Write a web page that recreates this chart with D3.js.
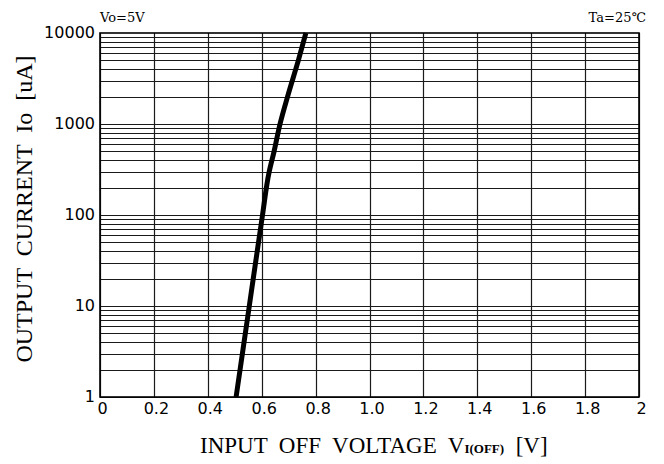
<!DOCTYPE html>
<html>
<head>
<meta charset="utf-8">
<script src="https://cdn.jsdelivr.net/npm/d3@7"></script>
<style>
  body { margin: 0; background: #fff; }
  svg text { fill: #000; }
</style>
</head>
<body>
<div id="chart"></div>
<script>
// curve: [V, uA]
const voltage = [0.505, 0.554, 0.603, 0.628, 0.646, 0.668, 0.696, 0.736, 0.764]
const current = [1, 10, 100, 300, 500, 1000, 2000, 5000, 10000]

const xTicks = [0, 0.2, 0.4, 0.6, 0.8, 1.0, 1.2, 1.4, 1.6, 1.8, 2]
const xTickLabels = ['0', '0.2', '0.4', '0.6', '0.8', '1.0', '1.2', '1.4', '1.6', '1.8', '2']
const yTicks = [1, 10, 100, 1000, 10000]

const margin = { top: 33, right: 25, bottom: 67, left: 100 }
const width = 664 - margin.left - margin.right
const height = 464 - margin.top - margin.bottom

const root = d3.select('#chart').append('svg')
  .attr('width', 664)
  .attr('height', 464)

const svg = root.append('g')
  .attr('transform', `translate(${margin.left},${margin.top})`)

const x = d3.scaleLinear().domain([0, 2]).range([0, width])
const y = d3.scaleLog().domain([1, 10000]).range([height, 0])

// minor + major horizontal grid (1..9 per decade)
const hLines = []
for (let e = 0; e < 4; e++) {
  for (let m = 1; m < 10; m++) hLines.push(m * Math.pow(10, e))
}

svg.append('g')
  .selectAll('line')
  .data(hLines)
  .enter()
  .append('line')
  .attr('x1', 0)
  .attr('x2', width)
  .attr('y1', d => Math.round(y(d)) + 0.5)
  .attr('y2', d => Math.round(y(d)) + 0.5)
  .attr('stroke', '#1a1a1a')
  .attr('stroke-width', 1.2)

svg.append('g')
  .selectAll('line')
  .data(xTicks)
  .enter()
  .append('line')
  .attr('x1', d => Math.round(x(d)) + 0.5)
  .attr('x2', d => Math.round(x(d)) + 0.5)
  .attr('y1', 0)
  .attr('y2', height)
  .attr('stroke', '#1a1a1a')
  .attr('stroke-width', 1.2)

svg.append('rect')
  .attr('width', width)
  .attr('height', height)
  .attr('fill', 'none')
  .attr('stroke', '#000')
  .attr('stroke-width', 1.6)

// axes (labels only, grid drawn above)
const xAxis = d3.axisBottom(x)
  .tickValues(xTicks)
  .tickFormat((d, i) => xTickLabels[i])
  .tickSize(0)
  .tickPadding(6)

svg.append('g')
  .attr('transform', `translate(2, ${height})`)
  .call(xAxis)
  .call(g => g.select('.domain').remove())
  .selectAll('text')
  .attr('font-family', 'DejaVu Sans')
  .attr('font-size', 16)

const yAxis = d3.axisLeft(y)
  .tickValues(yTicks)
  .tickFormat(d3.format('d'))
  .tickSize(0)
  .tickPadding(5)

svg.append('g')
  .call(yAxis)
  .call(g => g.select('.domain').remove())
  .selectAll('text')
  .attr('font-family', 'DejaVu Sans')
  .attr('font-size', 16)
  .attr('dy', '0.3em')

// curve
const line = d3.line()
  .x(d => x(d[0]))
  .y(d => y(d[1]))
  .curve(d3.curveMonotoneY)

svg.append('path')
  .datum(d3.zip(voltage, current))
  .attr('d', line)
  .attr('fill', 'none')
  .attr('stroke', '#000')
  .attr('stroke-width', 5)

// labels
root.append('text')
  .attr('x', 100)
  .attr('y', 22)
  .attr('font-family', 'DejaVu Serif')
  .attr('font-size', 13)
  .text('Vo=5V')

root.append('text')
  .attr('x', 646)
  .attr('y', 22)
  .attr('text-anchor', 'end')
  .attr('font-family', 'DejaVu Serif')
  .attr('font-size', 13)
  .text('Ta=25℃')

const xt = root.append('text')
  .attr('x', 200)
  .attr('y', 453)
  .attr('font-family', 'Liberation Serif')
  .attr('font-size', 23)
  .attr('xml:space', 'preserve')
xt.append('tspan').text('INPUT  OFF  VOLTAGE  V')
xt.append('tspan')
  .attr('font-weight', 'bold')
  .attr('font-size', 13)
  .text('I(OFF)')
xt.append('tspan').text('  [V]')

root.append('text')
  .attr('transform', 'translate(32, 209) rotate(-90)')
  .attr('text-anchor', 'middle')
  .attr('font-family', 'Liberation Serif')
  .attr('font-size', 24)
  .attr('xml:space', 'preserve')
  .text('OUTPUT  CURRENT  Io  [uA]')
</script>
</body>
</html>
